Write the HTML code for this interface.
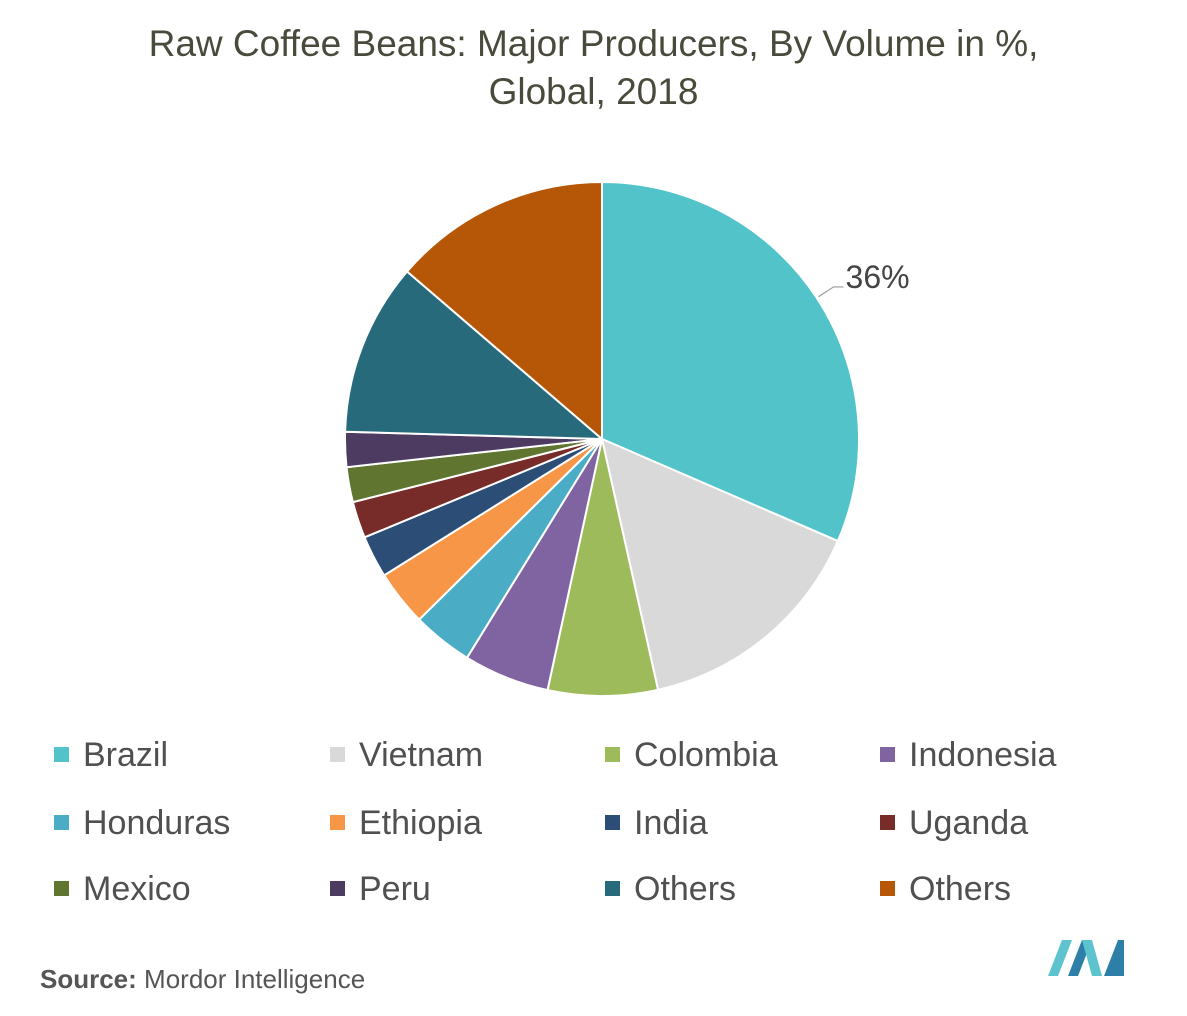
<!DOCTYPE html>
<html><head><meta charset="utf-8"><style>
body{margin:0;width:1187px;height:1016px;background:#fff;font-family:"Liberation Sans",sans-serif;overflow:hidden;position:relative}
#title{position:absolute;left:0;width:1187px;top:20px;text-align:center;font-size:37px;line-height:48px;color:#4a4a3c}
.leg{position:absolute;font-size:34px;color:#505050;white-space:nowrap}
.sw{display:inline-block;width:15px;height:15px;margin-right:14px;vertical-align:middle;position:relative;top:-3px}
#src{position:absolute;left:40px;top:964px;font-size:26px;color:#555}
</style></head><body>
<div id="title">Raw Coffee Beans: Major Producers, By Volume in %,<br>Global, 2018</div>
<svg id="chart" width="1187" height="1016" style="position:absolute;left:0;top:0"></svg>
<div id="legend"></div>
<div id="src"><b>Source:</b> Mordor Intelligence</div>
<svg style="position:absolute;left:1048px;top:936px" width="80" height="42">
<polygon points="0,40 14,4 24,4 10,40" fill="#5cc3cf"/><polygon points="20,40 34,4 44,4 30,40" fill="#2e7fa8"/><polygon points="34,4 44,4 54,40 44,40" fill="#5cc3cf"/><polygon points="56,40 70,4 76,4 76,40" fill="#2e7fa8"/>
</svg>
<script>
const categories=["Brazil","Vietnam","Colombia","Indonesia","Honduras","Ethiopia","India","Uganda","Mexico","Peru","Others","Others"];
const values=[31.5,15.0,6.9,5.4,3.8,3.5,2.65,2.3,2.2,2.2,10.85,13.7];
const pointLabels=["36%","","","","","","","","","","",""];
const colors=["#52c4c9","#d9d9d9","#9dbb5a","#8064a2","#4bacc6","#f79646","#2c4d75","#772c2a","#5f7530","#4d3b62","#276a7c","#b65708"];
const svg=document.getElementById('chart');const NS="http://www.w3.org/2000/svg";
const cx=602,cy=439,r=257;
const total=values.reduce((a,b)=>a+b,0);
function pt(frac,rad){const a=frac*2*Math.PI;return [cx+rad*Math.sin(a),cy-rad*Math.cos(a)];}
let cum=0;
values.forEach((v,i)=>{
  const s=cum/total,e=(cum+v)/total;cum+=v;
  const p0=pt(s,r),p1=pt(e,r);
  const path=document.createElementNS(NS,'path');
  path.setAttribute('d',`M${cx},${cy}L${p0[0]},${p0[1]}A${r},${r} 0 ${e-s>0.5?1:0} 1 ${p1[0]},${p1[1]}Z`);
  path.setAttribute('fill',colors[i]);path.setAttribute('stroke','#fff');path.setAttribute('stroke-width','2');
  
  
  svg.appendChild(path);
  if(pointLabels[i]){
    const m=(s+e)/2;const a=pt(m,r+2),b=pt(m,r+20);
    const ln=document.createElementNS(NS,'polyline');
    ln.setAttribute('points',`${a[0]},${a[1]} ${b[0]},${b[1]} ${b[0]+10},${b[1]}`);
    ln.setAttribute('fill','none');ln.setAttribute('stroke','#999');ln.setAttribute('stroke-width','1.2');
    
    
    svg.appendChild(ln);
    const t=document.createElementNS(NS,'text');
    t.setAttribute('x',b[0]+12);t.setAttribute('y',b[1]+1);t.setAttribute('font-size','32');t.setAttribute('fill','#444');
    t.textContent=pointLabels[i];
    
    
    svg.appendChild(t);
  }
});
const leg=document.getElementById('legend');
const colX=[54,330,605,880],rowY=[736,804,870];
categories.forEach((c,i)=>{
  const d=document.createElement('div');d.className='leg';
  d.style.left=colX[i%4]+'px';d.style.top=rowY[Math.floor(i/4)]+'px';
  d.innerHTML=`<span class="sw" style="background:${colors[i]}"></span>${c}`;
  
  
  leg.appendChild(d);
});
</script>
</body></html>
